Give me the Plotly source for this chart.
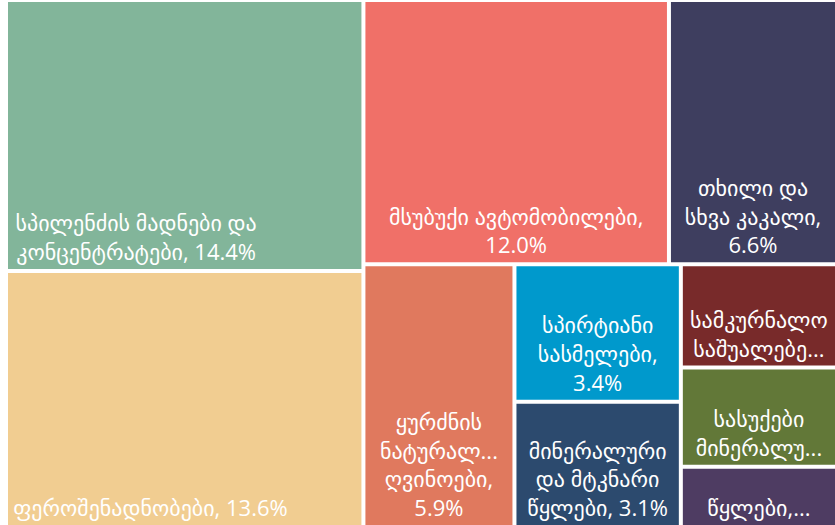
import plotly.graph_objects as go

# Leaf categories (Georgian export items) and their shares, %
leaf_names = [
    "სპილენძის მადნები და კონცენტრატები",
    "ფეროშენადნობები",
    "მსუბუქი ავტომობილები",
    "თხილი და სხვა კაკალი",
    "ყურძნის ნატურალური ღვინოები",
    "სპირტიანი სასმელები",
    "მინერალური და მტკნარი წყლები",
    "სამკურნალო საშუალებები",
    "სასუქები მინერალური",
    "წყლები",
]
leaf_values = [14.4, 13.6, 12.0, 6.6, 5.9, 3.4, 3.1, 2.4, 2.3, 1.4]
NB = "\u00a0"
leaf_labels = [
    "სპილენძის მადნები და" + NB * 17 + "<br>კონცენტრატები, 14.4%" + NB * 17,
    "ფეროშენადნობები, 13.6%" + NB * 12,
    "მსუბუქი ავტომობილები,<br>12.0%",
    "თხილი და<br>სხვა კაკალი,<br>6.6%",
    "ყურძნის<br>ნატურალ...<br>ღვინოები,<br>5.9%",
    "სპირტიანი<br>სასმელები,<br>3.4%",
    "მინერალური<br>და მტკნარი<br>წყლები, 3.1%",
    "სამკურნალო<br>საშუალებე...",
    "სასუქები<br>მინერალუ...",
    "წყლები,...",
]
leaf_colors = [
    "#82B59A", "#F1CD91", "#F07068", "#3E3E5F", "#E0795E",
    "#0099CC", "#2C4A6E", "#782A2A", "#627838", "#4E3C62",
]

ids = []
parents = []
values = []
texts = []
colors = []
# layout blocks (hidden group nodes) and leaf indices, in drawing order
order = [
    ("A", ""), (0, "A"), (1, "A"),
    ("B", ""), ("R1", "B"), (2, "R1"), (3, "R1"),
    ("R2", "B"), (4, "R2"), ("C1", "R2"), (5, "C1"), (6, "C1"),
    ("C2", "R2"), (7, "C2"), (8, "C2"), (9, "C2"),
]
for node, par in order:
    if isinstance(node, int):
        ids.append(leaf_names[node])
        parents.append(par)
        values.append(leaf_values[node])
        texts.append(leaf_labels[node])
        colors.append(leaf_colors[node])
    else:
        ids.append(node)
        parents.append(par)
        values.append(0)
        texts.append("")
        colors.append("white")

fig = go.Figure(go.Treemap(
    ids=ids,
    labels=ids,
    parents=parents,
    values=values,
    text=texts,
    textinfo="text",
    branchvalues="remainder",
    sort=False,
    tiling=dict(packing="slice-dice", pad=4),
    marker=dict(colors=colors, pad=dict(t=0, l=0, r=0, b=0),
                line=dict(width=0, color="white")),
    textposition="bottom center",
    textfont=dict(family="Open Sans, DejaVu Sans", size=22, color="white"),
    pathbar=dict(visible=False),
    hoverinfo="skip",
))
fig.update_layout(
    width=835, height=525,
    margin=dict(l=8, r=0, t=2, b=0),
    paper_bgcolor="white",
)
fig.write_html("out.html", config={"displayModeBar": False},
               post_script="document.body.style.margin='0';")
